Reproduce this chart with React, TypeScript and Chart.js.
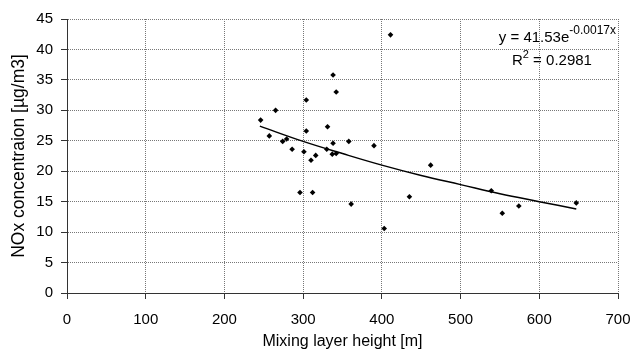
import React, { useEffect, useRef } from "react";
import { Chart, registerables } from "chart.js";

Chart.register(...registerables);

// ---- data ----
const MIXING_HEIGHT = [
  246, 265, 257, 274, 279, 286, 296, 301, 304, 304,
  310, 316, 312, 330, 331, 337, 338, 338, 342, 342,
  358, 361, 390, 403, 411, 435, 462, 539, 553, 574, 647,
];
const NOX = [
  28.4, 30.0, 25.8, 24.9, 25.3, 23.6, 16.5, 23.2, 26.6, 31.7,
  21.8, 22.6, 16.5, 23.6, 27.3, 22.8, 24.6, 35.8, 22.9, 33.0,
  24.9, 14.6, 24.2, 10.6, 42.4, 15.8, 21.0, 16.8, 13.1, 14.3, 14.8,
];
// exponential trend line as drawn (y = 41.53e^-0.0017x)
const TREND_X = [245, 300, 350, 400, 450, 500, 550, 600, 647];
const TREND_Y = [27.4, 24.9, 22.9, 21.0, 19.3, 17.8, 16.3, 15.0, 13.8];

const X_MIN = 0;
const X_MAX = 700;
const X_STEP = 100;
const Y_MIN = 0;
const Y_MAX = 45;
const Y_STEP = 5;

const X_TITLE = "Mixing layer height [m]";
const Y_TITLE = "NOx concentraion [µg/m3]";
const EQ_MAIN = "y = 41.53e";
const EQ_EXP = "-0.0017x";
const R2_A = "R";
const R2_SUP = "2";
const R2_B = " = 0.2981";

const FONT = '"Liberation Sans", Arial, sans-serif';

const eqPlugin = {
  id: "eqLabel",
  afterDraw(chart: any) {
    const ctx = chart.ctx as CanvasRenderingContext2D;
    ctx.save();
    ctx.fillStyle = "#000";
    ctx.textAlign = "left";
    ctx.textBaseline = "alphabetic";
    // line 1 (right end near the plot's right edge)
    const right1 = chart.chartArea.right - 2;
    const y1 = 42;
    ctx.font = `15px ${FONT}`;
    const w1 = ctx.measureText(EQ_MAIN).width;
    ctx.font = `12px ${FONT}`;
    const we = ctx.measureText(EQ_EXP).width;
    const x1 = right1 - w1 - we;
    ctx.font = `15px ${FONT}`;
    ctx.fillText(EQ_MAIN, x1, y1);
    ctx.font = `12px ${FONT}`;
    ctx.fillText(EQ_EXP, x1 + w1, y1 - 8);
    // line 2
    const x2 = 512;
    const y2 = 65;
    ctx.font = `15px ${FONT}`;
    ctx.fillText(R2_A, x2, y2);
    const wr = ctx.measureText(R2_A).width;
    ctx.font = `11px ${FONT}`;
    ctx.fillText(R2_SUP, x2 + wr, y2 - 7);
    const ws = ctx.measureText(R2_SUP).width;
    ctx.font = `15px ${FONT}`;
    ctx.fillText(R2_B, x2 + wr + ws, y2);
    ctx.restore();
  },
};

export default function App() {
  const ref = useRef<HTMLCanvasElement | null>(null);

  useEffect(() => {
    if (!ref.current) return;
    const scatter = MIXING_HEIGHT.map((x, i) => ({ x, y: NOX[i] }));
    const trend = TREND_X.map((x, i) => ({ x, y: TREND_Y[i] }));

    const chart = new Chart(ref.current, {
      type: "scatter",
      data: {
        datasets: [
          {
            type: "line",
            data: trend,
            borderColor: "#000",
            borderWidth: 1.5,
            pointRadius: 0,
            tension: 0.4,
            fill: false,
          } as any,
          {
            data: scatter,
            pointStyle: "rectRot",
            pointRadius: 2.8,
            backgroundColor: "#000",
            borderColor: "#000",
            borderWidth: 0,
          },
        ],
      },
      options: {
        animation: false,
        responsive: false,
        devicePixelRatio: 1,
        layout: { padding: { left: 0, right: 14, top: 19, bottom: 0 } },
        plugins: {
          legend: { display: false },
          tooltip: { enabled: false },
        },
        scales: {
          x: {
            type: "linear",
            min: X_MIN,
            max: X_MAX,
            afterFit: (s: any) => {
              s.height = 63;
              s.paddingLeft = 0;
              s.paddingRight = 0;
            },
            ticks: {
              stepSize: X_STEP,
              color: "#000",
              padding: 12,
              maxRotation: 0,
              font: { family: FONT, size: 15 },
            },
            grid: {
              color: "#777",
              tickColor: "#333",
              tickLength: 6,
              tickBorderDash: [],
            } as any,
            border: { color: "#333", width: 1, dash: [1, 1] } as any,
            title: {
              display: true,
              text: X_TITLE,
              color: "#000",
              font: { family: FONT, size: 16 },
              padding: { top: 0, bottom: 5 },
            },
          },
          y: {
            type: "linear",
            min: Y_MIN,
            max: Y_MAX,
            afterFit: (s: any) => {
              s.width = 67;
              s.paddingTop = 0;
              s.paddingBottom = 0;
            },
            ticks: {
              stepSize: Y_STEP,
              color: "#000",
              padding: 8,
              font: { family: FONT, size: 15 },
            },
            grid: {
              color: "#777",
              tickColor: "#333",
              tickLength: 6,
              tickBorderDash: [],
            } as any,
            border: { color: "#333", width: 1, dash: [1, 1] } as any,
            title: {
              display: true,
              text: Y_TITLE,
              color: "#000",
              font: { family: FONT, size: 17.5 },
              padding: { top: 9, bottom: 0 },
            },
          },
        },
      },
      plugins: [eqPlugin],
    });
    return () => chart.destroy();
  }, []);

  return (
    <div style={{ position: "absolute", left: 0, top: 0, width: 632, height: 356, background: "#fff" }}>
      <canvas ref={ref} width={632} height={356} />
    </div>
  );
}
